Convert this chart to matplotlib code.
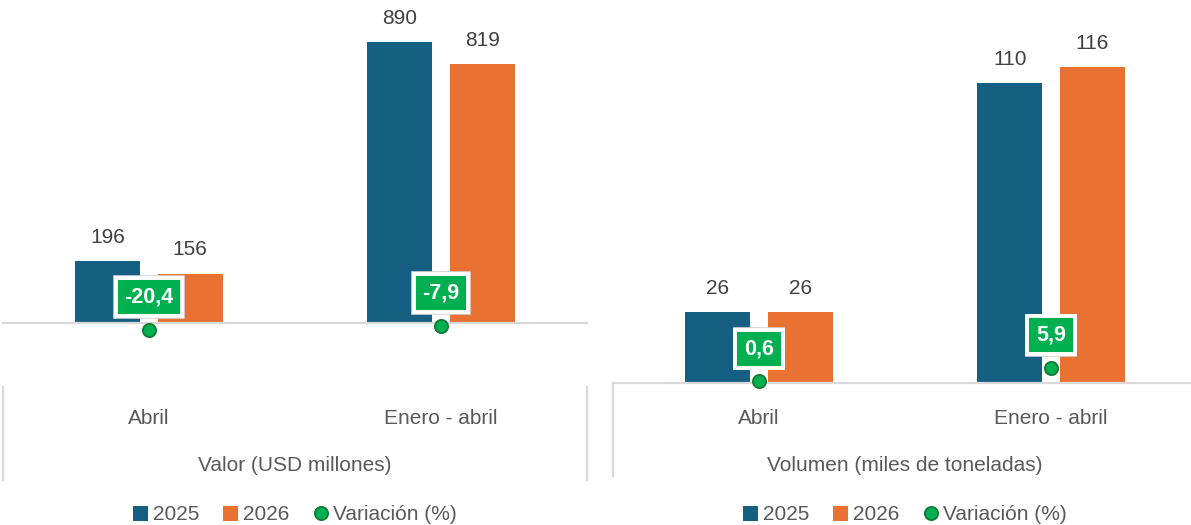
import matplotlib
matplotlib.use('Agg')
import matplotlib.pyplot as plt
import matplotlib.transforms as mtransforms
from matplotlib.lines import Line2D
from matplotlib.patches import Patch

# ---------------- data ----------------
categories = ['Abril', 'Enero - abril']
valor_2025 = [196, 890]
valor_2026 = [156, 819]
valor_var = [-20.4, -7.9]
volumen_2025 = [26, 110]
volumen_2026 = [26, 116]
volumen_var = [0.6, 5.9]
panel_titles = ['Valor (USD millones)', 'Volumen (miles de toneladas)']
series_names = ['2025', '2026', 'Variación (%)']

# ---------------- style ----------------
plt.rcParams['font.family'] = ['Liberation Sans', 'DejaVu Sans']
C2025 = '#156082'
C2026 = '#E97132'
CGREEN = '#00B050'
CGREEN_EDGE = '#137A32'
CTEXT = '#404040'
CCAT = '#595959'
CAXIS = '#D9D9D9'
FS = 15

W, H = 1191, 525
fig = plt.figure(figsize=(W / 100, H / 100), dpi=100)


def fx(px):
    return px / W


def fy(py):
    return 1 - py / H


def fmt(v):
    return f'{v:.1f}'.replace('.', ',')


panels = [
    dict(left=3, base=323, cat_px=292, ymax=1023, y2max=979,
         b1=valor_2025, b2=valor_2026, var=valor_var, title=panel_titles[0],
         vtop=387, vbot=480),
    dict(left=613, base=383, cat_px=292, ymax=140.6, y2max=150.8,
         b1=volumen_2025, b2=volumen_2026, var=volumen_var, title=panel_titles[1],
         vtop=383, vbot=476),
]

bar_w = 0.223
off = 0.141
xs = list(range(len(categories)))

for p in panels:
    full_px = p['cat_px'] * len(categories)
    vis_px = min(full_px, W - p['left'])
    ax = fig.add_axes([fx(p['left']), fy(p['base']), vis_px / W, p['base'] / H])
    ax.set_xlim(-0.5, -0.5 + vis_px / p['cat_px'])
    ax.set_ylim(0, p['ymax'])
    for s in ['top', 'right', 'left']:
        ax.spines[s].set_visible(False)
    ax.spines['bottom'].set_color(CAXIS)
    ax.spines['bottom'].set_linewidth(1.6)
    ax.set_xticks([])
    ax.set_yticks([])
    ax.patch.set_alpha(0)

    bars1 = ax.bar([x - off for x in xs], p['b1'], width=bar_w, color=C2025, zorder=2)
    bars2 = ax.bar([x + off for x in xs], p['b2'], width=bar_w, color=C2026, zorder=2)
    for bars, vals in ((bars1, p['b1']), (bars2, p['b2'])):
        for b, v in zip(bars, vals):
            ax.annotate(f'{v}', (b.get_x() + b.get_width() / 2, v),
                        xytext=(0, 13.3), textcoords='offset points',
                        ha='center', va='baseline', fontsize=FS, color=CTEXT,
                        annotation_clip=False)

    ax2 = ax.twinx()
    ax2.set_ylim(0, p['y2max'])
    for s in ax2.spines.values():
        s.set_visible(False)
    ax2.set_yticks([])
    ax2.set_xticks([])
    ax2.plot(xs, p['var'], linestyle='none', marker='o', markersize=9.5,
             markerfacecolor=CGREEN, markeredgecolor=CGREEN_EDGE,
             markeredgewidth=1.3, clip_on=False, zorder=5)
    for x, v in zip(xs, p['var']):
        # faint outer frame
        ax2.annotate(fmt(v), (x, v), xytext=(0, 23.5), textcoords='offset points',
                     ha='center', va='center', fontsize=15.5, fontweight='bold',
                     color='none', annotation_clip=False, zorder=6,
                     bbox=dict(boxstyle='square,pad=0.47', fc='none',
                               ec='#D4D4D4', lw=1.2))
        ax2.annotate(fmt(v), (x, v), xytext=(0, 23.5), textcoords='offset points',
                     ha='center', va='center', fontsize=15.5, fontweight='bold',
                     color='white', annotation_clip=False, zorder=7,
                     bbox=dict(boxstyle='square,pad=0.40', fc=CGREEN,
                               ec='white', lw=2.8))

    blend = mtransforms.blended_transform_factory(ax.transData, fig.transFigure)
    for x, c in zip(xs, categories):
        ax.text(x, fy(424), c, transform=blend, ha='center', va='baseline',
                fontsize=FS, color=CCAT)
    center = (len(categories) - 1) / 2
    ax.text(center, fy(471), p['title'], transform=blend, ha='center',
            va='baseline', fontsize=FS, color=CCAT)

    # category separator lines
    edges = [0.0, 1.0] if full_px <= vis_px else [0.0]
    for xa in edges:
        fig.add_artist(Line2D([fx(p['left']) + xa * vis_px / W] * 2,
                              [fy(p['vtop']), fy(p['vbot'])],
                              color=CAXIS, lw=1.6))

    handles = [Patch(facecolor=C2025), Patch(facecolor=C2026),
               Line2D([], [], linestyle='none', marker='o', markersize=9.5,
                      markerfacecolor=CGREEN, markeredgecolor=CGREEN_EDGE,
                      markeredgewidth=1.3)]
    leg = ax.legend(handles, series_names, ncol=3, loc='center',
                    bbox_to_anchor=(center, fy(515)), bbox_transform=blend,
                    frameon=False, fontsize=FS, handlelength=0.7,
                    handleheight=0.7, handletextpad=0.25, columnspacing=1.15,
                    borderpad=0, borderaxespad=0)
    for t in leg.get_texts():
        t.set_color(CCAT)

fig.savefig('out.png', dpi=100)
